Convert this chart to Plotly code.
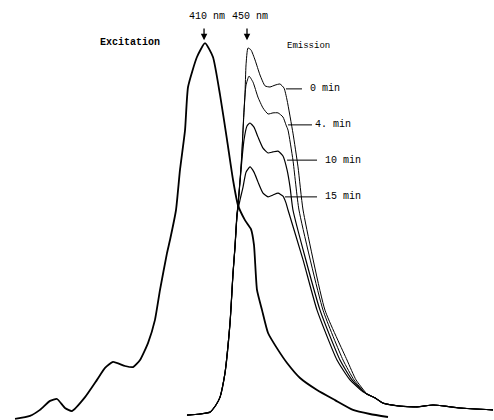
import plotly.graph_objects as go

# Excitation spectrum (wavelength nm, relative intensity)
ex_wl = [234.0, 247.9, 257.2, 266.6, 273.1, 280.5, 287.0, 299.2, 310.3, 317.8, 325.2, 336.4,
         343.9, 350.4, 357.8, 364.3, 369.0, 375.5, 378.3, 383.9, 387.6, 392.3, 395.1, 403.4,
         410.9, 418.3, 424.9, 431.4, 437.0, 441.6, 448.1, 453.7, 456.5, 459.3, 464.0, 469.6,
         478.9, 487.3, 499.4, 515.2, 532.0, 548.7, 564.5, 581.3]
ex_int = [0.3, 1.1, 2.7, 5.1, 5.6, 3.2, 2.4, 6.1, 10.7, 13.9, 15.5, 14.4,
          14.1, 16.0, 20.5, 26.7, 34.7, 44.5, 48.0, 56.0, 66.7, 77.3, 88.8, 96.8,
          100.5, 96.8, 86.7, 74.7, 64.0, 57.3, 53.3, 50.9, 46.7, 34.7, 29.3, 23.2,
          18.7, 15.2, 11.2, 8.0, 5.3, 2.7, 1.6, 0.8]

# Emission spectra: shared onset and long tail
em_rise_wl = [394.1, 406.2, 415.6, 421.1, 424.9, 429.5, 434.2, 437.0, 438.8, 440.7]
em_rise_int = [1.3, 1.6, 2.1, 4.0, 6.1, 12.5, 25.9, 39.2, 46.1, 54.7]
em_tail_wl = [561.8, 569.2, 576.7, 592.5, 608.3, 623.2, 634.4, 648.4, 679.1]
em_tail_int = [6.9, 5.9, 4.5, 3.7, 3.5, 4.0, 3.7, 3.2, 2.7]

em0_wl = [441.6, 444.4, 446.3, 448.1, 449.1, 450.9, 453.7, 457.5, 462.1, 466.8, 471.4, 476.1,
          480.7, 484.5, 487.3, 492.8, 497.5, 502.2, 522.6, 543.1, 551.5, 560.8]
em0_int = [57.3, 66.7, 77.3, 86.7, 94.7, 99.2, 98.7, 96.0, 92.0, 89.1, 88.8, 89.3,
           89.6, 88.5, 85.3, 76.5, 67.5, 56.0, 29.3, 16.0, 10.7, 7.2]

em4_wl = [441.6, 443.5, 445.4, 447.2, 449.1, 451.9, 455.6, 460.2, 464.9, 469.6, 474.2, 478.9,
          483.5, 486.3, 488.2, 492.8, 498.4, 520.8, 539.4, 549.6, 559.9]
em4_int = [57.3, 64.0, 72.0, 82.7, 89.3, 91.7, 90.1, 86.1, 83.2, 81.6, 81.9, 81.9,
           80.8, 78.7, 77.3, 69.3, 56.0, 29.3, 16.0, 10.7, 7.2]

em10_wl = [441.6, 444.4, 447.2, 450.0, 452.8, 456.5, 460.2, 464.9, 469.6, 474.2, 478.9, 483.5,
           487.3, 490.1, 492.8, 518.0, 536.6, 547.8, 559.0]
em10_int = [57.3, 66.7, 74.7, 78.4, 79.2, 78.1, 75.5, 72.5, 71.2, 71.5, 71.7, 70.4,
            66.7, 62.1, 56.0, 29.3, 16.0, 10.7, 7.5]

em15_wl = [443.5, 446.3, 449.1, 452.8, 456.5, 460.2, 464.9, 469.6, 474.2, 478.9, 483.5, 486.3,
           488.2, 502.2, 515.2, 533.8, 545.9, 558.0]
em15_int = [58.7, 62.1, 66.1, 67.5, 66.1, 63.5, 60.5, 59.5, 60.0, 60.5, 59.7, 57.9,
            56.0, 42.7, 29.3, 16.0, 10.7, 7.5]

time_labels = ["0 min", "4. min", "10 min", "15 min"]
leader_start_wl = [486.3, 488.2, 487.3, 485.4]
leader_end_wl = [501.2, 510.5, 515.2, 515.2]
leader_int = [88.3, 78.7, 69.3, 59.5]
label_wl = [506.8, 511.5, 520.8, 520.8]

peak_labels = ["410 nm", "450 nm"]
peak_wl = [410.0, 450.0]

FONT = "Liberation Mono, DejaVu Sans Mono, monospace"

fig = go.Figure()

fig.add_trace(go.Scatter(x=ex_wl, y=ex_int, mode="lines",
                         line=dict(color="black", width=1.8, shape="spline", smoothing=0.5),
                         showlegend=False, hoverinfo="skip"))

for wl, it, w in [(em0_wl, em0_int, 1.0), (em4_wl, em4_int, 1.0),
                  (em10_wl, em10_int, 1.2), (em15_wl, em15_int, 1.2)]:
    fig.add_trace(go.Scatter(x=em_rise_wl + wl + em_tail_wl,
                             y=em_rise_int + it + em_tail_int, mode="lines",
                             line=dict(color="black", width=w, shape="spline", smoothing=0.5),
                             showlegend=False, hoverinfo="skip"))

# leader lines for time labels
for xs, xe, yi in zip(leader_start_wl, leader_end_wl, leader_int):
    fig.add_trace(go.Scatter(x=[xs, xe], y=[yi, yi], mode="lines",
                             line=dict(color="black", width=1),
                             showlegend=False, hoverinfo="skip"))

for txt, xl, yi in zip(time_labels, label_wl, leader_int):
    fig.add_annotation(x=xl, y=yi, text=txt, showarrow=False, xanchor="left",
                       yanchor="middle", font=dict(family=FONT, size=10, color="black"))

for txt, wl in zip(peak_labels, peak_wl):
    fig.add_annotation(x=wl + 3, y=107.7, text=txt, showarrow=False,
                       font=dict(family=FONT, size=10, color="black"))
    fig.add_annotation(x=wl, y=101.3, ax=wl, ay=104.8, xref="x", yref="y",
                       axref="x", ayref="y", text="", showarrow=True,
                       arrowhead=2, arrowsize=1, arrowwidth=1.3, arrowcolor="black")

fig.add_annotation(x=341.1, y=100.8, text="<b>Excitation</b>", showarrow=False,
                   font=dict(family=FONT, size=10, color="black"))
fig.add_annotation(x=506.8, y=99.7, text="Emission", showarrow=False,
                   font=dict(family=FONT, size=9, color="black"))

fig.update_xaxes(range=[220, 680], visible=False)
fig.update_yaxes(range=[0, 112], visible=False)
fig.update_layout(width=494, height=420, margin=dict(l=0, r=0, t=0, b=0),
                  paper_bgcolor="white", plot_bgcolor="white")

fig.write_html("out.html", config={"displayModeBar": False, "staticPlot": True},
               post_script="document.body.style.margin='0';")
